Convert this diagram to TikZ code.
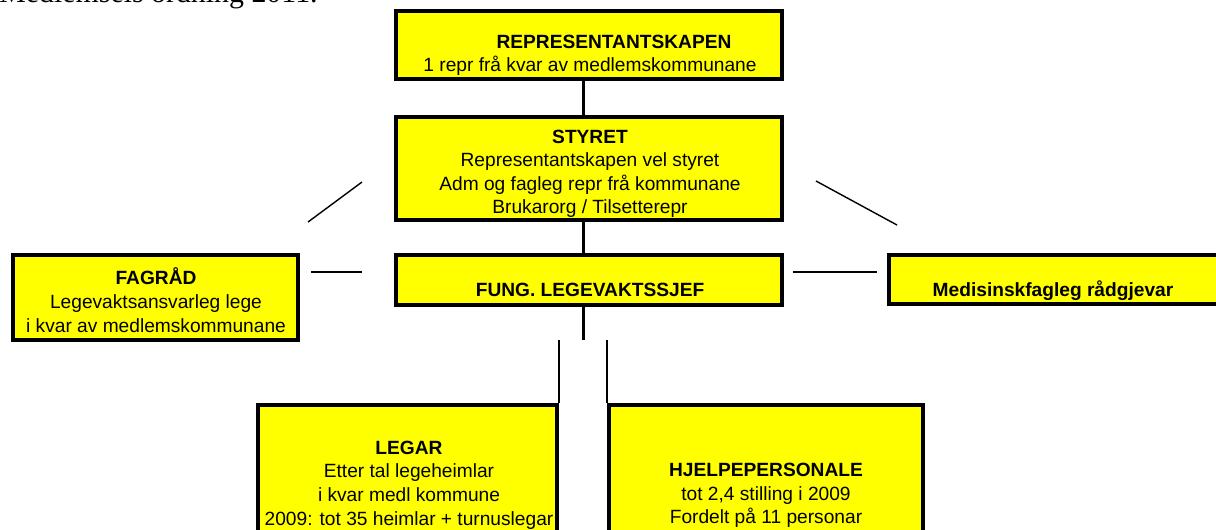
\documentclass[tikz,border=0pt]{standalone}
\usepackage{fontspec}
\setmainfont{Liberation Sans}
\newfontfamily\docfont{Liberation Serif}
\usepackage{tikz}
\usetikzlibrary{positioning}
\definecolor{boxyellow}{RGB}{255,255,0}

\begin{document}
\begin{tikzpicture}[x=0.02cm,y=-0.02cm,
    box/.style={draw,line width=2.5pt,fill=boxyellow,inner sep=0pt},
    txt/.style={align=center,inner sep=0pt,font=\fontsize{10.9}{13.4}\selectfont},
    link/.style={line width=1.7pt},
    slim/.style={line width=1.1pt},
    loose/.style={line width=0.8pt}]
            \useasboundingbox (0,0) rectangle (1216,529);
            \clip (0,0) rectangle (1216,529);

            \node[anchor=base west,inner sep=0pt,font=\docfont\fontsize{17}{20}\selectfont] (head) at (-1,2) {Medlemsels ordning 2011.};

            \node[box,minimum width=7.71cm,minimum height=1.35cm] (rep) at (589,45) {};
            \node[box,minimum width=7.71cm,minimum height=2.05cm] (sty) at (589,168.5) {};
            \node[box,minimum width=7.71cm,minimum height=0.99cm] (fung) at (589,280) {};
            \node[box,minimum width=5.69cm,minimum height=1.69cm] (fag) at (155.5,297.5) {};
            \node[box,minimum width=6.66cm,minimum height=0.97cm] (med) at (1055.6,279.5) {};
            \node[box,minimum width=5.97cm,minimum height=3.50cm] (leg) at (407.5,492.6) {};
            \node[box,minimum width=6.27cm,minimum height=3.50cm] (hjelp) at (766,492.6) {};

            \node[txt,anchor=north] (rep-t) at (590,34.3) {\hspace*{0.96cm}\textbf{REPRESENTANTSKAPEN}\\1 repr frå kvar av medlemskommunane};
            \node[txt,anchor=north] (sty-t) at (590,129.3) {\textbf{STYRET}\\Representantskapen vel styret\\Adm og fagleg repr frå kommunane\\Brukarorg / Tilsetterepr};
            \node[txt,anchor=base] (fung-t) at (590,296.7) {\textbf{FUNG. LEGEVAKTSSJEF}};
            \node[txt,anchor=north] (fag-t) at (156,267.7) {\textbf{FAGRÅD}\\Legevaktsansvarleg lege\\i kvar av medlemskommunane};
            \node[txt,anchor=base] (med-t) at (1053,296.7) {\textbf{Medisinskfagleg rådgjevar}};
            \node[txt,anchor=north] (leg-t) at (409,440.7) {\textbf{LEGAR}\\Etter tal legeheimlar\\i kvar medl kommune\\2009: tot 35 heimlar + turnuslegar};
            \node[txt,anchor=north] (hjelp-t) at (766,463) {\textbf{HJELPEPERSONALE}\\tot 2,4 stilling i 2009\\Fordelt på 11 personar};

            \coordinate (spine) at (583,340);
            \draw[link] (rep.south -| spine) -- (sty.north -| spine);
            \draw[link] (sty.south -| spine) -- (fung.north -| spine);
            \draw[link] (fung.south -| spine) -- (spine);
            \draw[slim] (leg.north east) -- (leg.north east |- spine);
            \draw[slim] (hjelp.north west) -- (hjelp.north west |- spine);

            \coordinate (dl1) at (308,222);
            \coordinate (dl2) at (362,182);
            \coordinate (dr1) at (816,181);
            \coordinate (dr2) at (897,225);
            \coordinate (hl1) at (311,272);
            \coordinate (hl2) at (362,272);
            \coordinate (hr1) at (793,272);
            \coordinate (hr2) at (877,272);
            \draw[loose] (dl1) -- (dl2);
            \draw[loose] (dr1) -- (dr2);
            \draw[loose] (hl1) -- (hl2);
            \draw[loose] (hr1) -- (hr2);
          \end{tikzpicture}
\end{document}
